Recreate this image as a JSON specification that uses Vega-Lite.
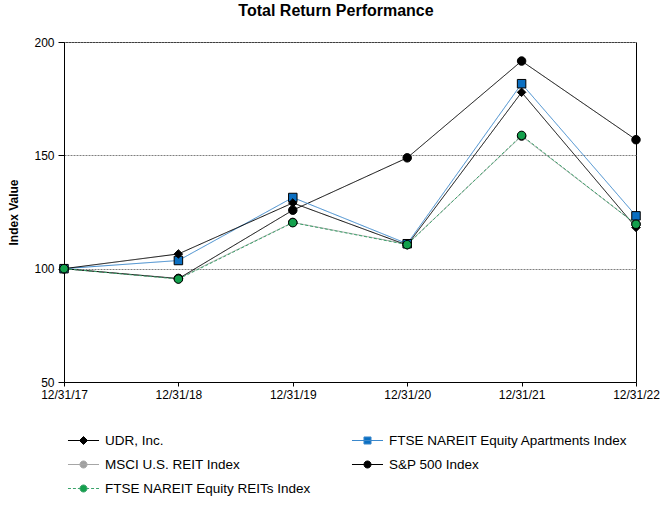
{
  "$schema": "https://vega.github.io/schema/vega-lite/v6.json",
  "width": 572,
  "height": 340,
  "autosize": "none",
  "padding": {"left": 64, "top": 42, "right": 31, "bottom": 123},
  "background": "#ffffff",
  "title": {
    "text": "Total Return Performance",
    "font": "Liberation Sans",
    "fontSize": 16,
    "fontWeight": "bold",
    "color": "#000000",
    "anchor": "middle",
    "dx": -14,
    "offset": 17
  },
  "config": {
    "font": "Liberation Sans",
    "view": {"stroke": "#000000", "strokeWidth": 1},
    "axis": {
      "labelFont": "Liberation Sans",
      "labelFontSize": 12,
      "labelColor": "#000000",
      "titleFont": "Liberation Sans",
      "titleColor": "#000000",
      "domainColor": "#000000",
      "tickColor": "#000000"
    }
  },
  "data": {
    "values": [
      {"series": "MSCI U.S. REIT Index", "date": "12/31/17", "value": 100},
      {"series": "MSCI U.S. REIT Index", "date": "12/31/18", "value": 95.7},
      {"series": "MSCI U.S. REIT Index", "date": "12/31/19", "value": 120.4},
      {"series": "MSCI U.S. REIT Index", "date": "12/31/20", "value": 110.8},
      {"series": "MSCI U.S. REIT Index", "date": "12/31/21", "value": 158.5},
      {"series": "MSCI U.S. REIT Index", "date": "12/31/22", "value": 119.6},
      {"series": "S&P 500 Index", "date": "12/31/17", "value": 100},
      {"series": "S&P 500 Index", "date": "12/31/18", "value": 95.6},
      {"series": "S&P 500 Index", "date": "12/31/19", "value": 125.8},
      {"series": "S&P 500 Index", "date": "12/31/20", "value": 148.9},
      {"series": "S&P 500 Index", "date": "12/31/21", "value": 191.6},
      {"series": "S&P 500 Index", "date": "12/31/22", "value": 156.9},
      {"series": "FTSE NAREIT Equity Apartments Index", "date": "12/31/17", "value": 100},
      {"series": "FTSE NAREIT Equity Apartments Index", "date": "12/31/18", "value": 103.6},
      {"series": "FTSE NAREIT Equity Apartments Index", "date": "12/31/19", "value": 131.4},
      {"series": "FTSE NAREIT Equity Apartments Index", "date": "12/31/20", "value": 111.0},
      {"series": "FTSE NAREIT Equity Apartments Index", "date": "12/31/21", "value": 181.6},
      {"series": "FTSE NAREIT Equity Apartments Index", "date": "12/31/22", "value": 123.3},
      {"series": "UDR, Inc.", "date": "12/31/17", "value": 100},
      {"series": "UDR, Inc.", "date": "12/31/18", "value": 106.5},
      {"series": "UDR, Inc.", "date": "12/31/19", "value": 129.0},
      {"series": "UDR, Inc.", "date": "12/31/20", "value": 110.4},
      {"series": "UDR, Inc.", "date": "12/31/21", "value": 177.8},
      {"series": "UDR, Inc.", "date": "12/31/22", "value": 118.2},
      {"series": "FTSE NAREIT Equity REITs Index", "date": "12/31/17", "value": 100},
      {"series": "FTSE NAREIT Equity REITs Index", "date": "12/31/18", "value": 95.4},
      {"series": "FTSE NAREIT Equity REITs Index", "date": "12/31/19", "value": 120.3},
      {"series": "FTSE NAREIT Equity REITs Index", "date": "12/31/20", "value": 110.6},
      {"series": "FTSE NAREIT Equity REITs Index", "date": "12/31/21", "value": 158.8},
      {"series": "FTSE NAREIT Equity REITs Index", "date": "12/31/22", "value": 119.6}
    ]
  },
  "encoding": {
    "x": {
      "field": "date",
      "type": "ordinal",
      "sort": ["12/31/17", "12/31/18", "12/31/19", "12/31/20", "12/31/21", "12/31/22"],
      "scale": {"type": "point", "padding": 0},
      "axis": {
        "title": null,
        "labelAngle": 0,
        "tickSize": 4,
        "labelPadding": 3,
        "grid": false
      }
    },
    "y": {
      "field": "value",
      "type": "quantitative",
      "scale": {"domain": [50, 200], "nice": false, "zero": false},
      "axis": {
        "title": "Index Value",
        "titleFontSize": 12,
        "titleFontWeight": "bold",
        "titlePadding": 13,
        "values": [50, 100, 150, 200],
        "tickSize": 6,
        "labelPadding": 4,
        "grid": true,
        "gridColor": "#7f7f7f",
        "gridDash": [2, 1],
        "gridWidth": 1
      }
    }
  },
  "layer": [
    {
      "mark": {"type": "line", "strokeWidth": 1},
      "encoding": {
        "color": {
          "field": "series",
          "type": "nominal",
          "scale": {
            "domain": ["MSCI U.S. REIT Index", "S&P 500 Index", "FTSE NAREIT Equity Apartments Index", "UDR, Inc.", "FTSE NAREIT Equity REITs Index"],
            "range": ["#a6a6a6", "#000000", "#3b88cc", "#000000", "#3aa36a"]
          },
          "legend": null
        },
        "strokeDash": {
          "field": "series",
          "type": "nominal",
          "scale": {
            "domain": ["MSCI U.S. REIT Index", "S&P 500 Index", "FTSE NAREIT Equity Apartments Index", "UDR, Inc.", "FTSE NAREIT Equity REITs Index"],
            "range": [[1, 0], [1, 0], [1, 0], [1, 0], [3, 2]]
          },
          "legend": null
        }
      }
    },
    {
      "mark": {"type": "point", "filled": true, "opacity": 1, "size": 72, "stroke": "#000000", "strokeWidth": 1},
      "encoding": {
        "shape": {
          "field": "series",
          "type": "nominal",
          "scale": {
            "domain": ["MSCI U.S. REIT Index", "S&P 500 Index", "FTSE NAREIT Equity Apartments Index", "UDR, Inc.", "FTSE NAREIT Equity REITs Index"],
            "range": ["circle", "circle", "square", "diamond", "circle"]
          },
          "legend": null
        },
        "fill": {
          "field": "series",
          "type": "nominal",
          "scale": {
            "domain": ["MSCI U.S. REIT Index", "S&P 500 Index", "FTSE NAREIT Equity Apartments Index", "UDR, Inc.", "FTSE NAREIT Equity REITs Index"],
            "range": ["#a0a0a0", "#000000", "#0a6fc2", "#000000", "#13a04c"]
          },
          "legend": null
        }
      }
    },
    {
      "transform": [{"filter": "false"}],
      "mark": {"type": "point", "filled": true, "opacity": 1, "size": 256, "strokeWidth": 1},
      "encoding": {
        "shape": {
          "field": "series",
          "type": "nominal",
          "scale": {
            "domain": ["UDR, Inc.", "MSCI U.S. REIT Index", "FTSE NAREIT Equity REITs Index"],
            "range": [
              "M-1.94,0L1.94,0M0,-0.5L0.5,0L0,0.5L-0.5,0Z",
              "M-1.94,0L1.94,0M-0.44,0A0.44,0.44,0,1,1,0.44,0A0.44,0.44,0,1,1,-0.44,0Z",
              "M-1.94,0L-1.57,0M-1.32,0L-0.95,0M-0.7,0L-0.44,0M0.44,0L0.7,0M0.95,0L1.32,0M1.57,0L1.94,0M-0.44,0A0.44,0.44,0,1,1,0.44,0A0.44,0.44,0,1,1,-0.44,0Z"
            ]
          },
          "legend": {
            "orient": "none",
            "legendX": 11,
            "legendY": 390,
            "direction": "vertical",
            "title": null,
            "padding": 0,
            "symbolSize": 256,
            "symbolStrokeWidth": 1,
            "symbolOpacity": 1,
            "labelFont": "Liberation Sans",
            "labelFontSize": 13.5,
            "labelColor": "#000000",
            "labelOffset": 13,
            "labelLimit": 300,
            "rowPadding": 9
          }
        },
        "fill": {
          "field": "series",
          "type": "nominal",
          "scale": {
            "domain": ["UDR, Inc.", "MSCI U.S. REIT Index", "FTSE NAREIT Equity REITs Index"],
            "range": ["#000000", "#a0a0a0", "#13a04c"]
          }
        },
        "stroke": {
          "field": "series",
          "type": "nominal",
          "scale": {
            "domain": ["UDR, Inc.", "MSCI U.S. REIT Index", "FTSE NAREIT Equity REITs Index"],
            "range": ["#000000", "#a6a6a6", "#3aa36a"]
          }
        }
      }
    },
    {
      "transform": [{"filter": "false"}],
      "mark": {"type": "point", "filled": true, "opacity": 1, "size": 256, "strokeWidth": 1},
      "encoding": {
        "shape": {
          "field": "series",
          "type": "nominal",
          "scale": {
            "domain": ["FTSE NAREIT Equity Apartments Index", "S&P 500 Index"],
            "range": [
              "M-1.94,0L1.94,0M-0.44,-0.44L0.44,-0.44L0.44,0.44L-0.44,0.44Z",
              "M-1.94,0L1.94,0M-0.44,0A0.44,0.44,0,1,1,0.44,0A0.44,0.44,0,1,1,-0.44,0Z"
            ]
          },
          "legend": {
            "orient": "none",
            "legendX": 295,
            "legendY": 390,
            "direction": "vertical",
            "title": null,
            "padding": 0,
            "symbolSize": 256,
            "symbolStrokeWidth": 1,
            "symbolOpacity": 1,
            "labelFont": "Liberation Sans",
            "labelFontSize": 13.5,
            "labelColor": "#000000",
            "labelOffset": 13,
            "labelLimit": 300,
            "rowPadding": 9
          }
        },
        "fill": {
          "field": "series",
          "type": "nominal",
          "scale": {
            "domain": ["FTSE NAREIT Equity Apartments Index", "S&P 500 Index"],
            "range": ["#0a6fc2", "#000000"]
          }
        },
        "stroke": {
          "field": "series",
          "type": "nominal",
          "scale": {
            "domain": ["FTSE NAREIT Equity Apartments Index", "S&P 500 Index"],
            "range": ["#3b88cc", "#000000"]
          }
        }
      }
    }
  ],
  "resolve": {
    "scale": {"shape": "independent", "fill": "independent", "stroke": "independent"}
  }
}
